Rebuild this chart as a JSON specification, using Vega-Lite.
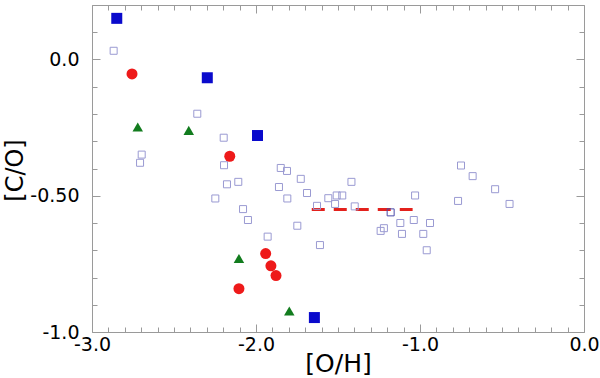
{
  "$schema": "https://vega.github.io/schema/vega-lite/v6.json",
  "width": 492,
  "height": 327,
  "autosize": {"type": "none"},
  "padding": {"left": 92, "top": 5, "right": 16, "bottom": 46},
  "background": "white",
  "config": {
    "view": {"stroke": "#9a9a9a", "strokeWidth": 1},
    "axis": {
      "grid": false,
      "domain": false,
      "labelFont": "DejaVu Sans",
      "titleFont": "DejaVu Sans",
      "labelColor": "black",
      "titleColor": "black",
      "tickColor": "#9a9a9a",
      "tickWidth": 1,
      "titleFontWeight": "normal",
      "labelFlush": false,
      "labelOverlap": false
    }
  },
  "datasets": {
    "line": [
      {"oh": -1.66, "co": -0.55},
      {"oh": -1.045, "co": -0.55}
    ],
    "open": [
      {"oh": -2.868, "co": 0.032, "kind": "open"},
      {"oh": -2.358, "co": -0.199, "kind": "open"},
      {"oh": -2.197, "co": -0.287, "kind": "open"},
      {"oh": -2.697, "co": -0.349, "kind": "open"},
      {"oh": -2.707, "co": -0.379, "kind": "open"},
      {"oh": -2.195, "co": -0.388, "kind": "open"},
      {"oh": -2.177, "co": -0.458, "kind": "open"},
      {"oh": -2.108, "co": -0.449, "kind": "open"},
      {"oh": -2.248, "co": -0.51, "kind": "open"},
      {"oh": -2.079, "co": -0.549, "kind": "open"},
      {"oh": -2.049, "co": -0.589, "kind": "open"},
      {"oh": -1.929, "co": -0.65, "kind": "open"},
      {"oh": -1.849, "co": -0.398, "kind": "open"},
      {"oh": -1.811, "co": -0.409, "kind": "open"},
      {"oh": -1.727, "co": -0.438, "kind": "open"},
      {"oh": -1.86, "co": -0.468, "kind": "open"},
      {"oh": -1.809, "co": -0.51, "kind": "open"},
      {"oh": -1.689, "co": -0.49, "kind": "open"},
      {"oh": -1.748, "co": -0.61, "kind": "open"},
      {"oh": -1.61, "co": -0.681, "kind": "open"},
      {"oh": -1.418, "co": -0.449, "kind": "open"},
      {"oh": -1.559, "co": -0.509, "kind": "open"},
      {"oh": -1.508, "co": -0.499, "kind": "open"},
      {"oh": -1.474, "co": -0.499, "kind": "open"},
      {"oh": -1.518, "co": -0.53, "kind": "open"},
      {"oh": -1.628, "co": -0.537, "kind": "open"},
      {"oh": -1.398, "co": -0.539, "kind": "open"},
      {"oh": -1.179, "co": -0.561, "kind": "dark"},
      {"oh": -1.12, "co": -0.6, "kind": "open"},
      {"oh": -1.22, "co": -0.619, "kind": "open"},
      {"oh": -1.24, "co": -0.629, "kind": "open"},
      {"oh": -1.11, "co": -0.64, "kind": "open"},
      {"oh": -1.03, "co": -0.499, "kind": "open"},
      {"oh": -1.038, "co": -0.589, "kind": "open"},
      {"oh": -0.939, "co": -0.6, "kind": "open"},
      {"oh": -0.98, "co": -0.64, "kind": "open"},
      {"oh": -0.959, "co": -0.7, "kind": "open"},
      {"oh": -0.75, "co": -0.389, "kind": "open"},
      {"oh": -0.679, "co": -0.428, "kind": "open"},
      {"oh": -0.542, "co": -0.476, "kind": "open"},
      {"oh": -0.768, "co": -0.519, "kind": "open"},
      {"oh": -0.454, "co": -0.53, "kind": "open"}
    ],
    "squares": [
      {"oh": -2.849, "co": 0.151},
      {"oh": -2.297, "co": -0.067},
      {"oh": -1.991, "co": -0.279},
      {"oh": -1.644, "co": -0.947}
    ],
    "circles": [
      {"oh": -2.756, "co": -0.053},
      {"oh": -2.16, "co": -0.355},
      {"oh": -1.941, "co": -0.712},
      {"oh": -1.909, "co": -0.757},
      {"oh": -1.878, "co": -0.793},
      {"oh": -2.104, "co": -0.841}
    ],
    "triangles": [
      {"oh": -2.721, "co": -0.248},
      {"oh": -2.41, "co": -0.26},
      {"oh": -2.104, "co": -0.73},
      {"oh": -1.797, "co": -0.923}
    ]
  },
  "layer": [
    {
      "data": {"name": "line"},
      "mark": {"type": "line", "color": "#e3211c", "strokeWidth": 3, "strokeDash": [13, 9]},
      "encoding": {
        "x": {
          "field": "oh", "type": "quantitative",
          "scale": {"domain": [-3, 0], "nice": false, "zero": false},
          "axis": {
            "orient": "bottom",
            "values": [-3, -2.9, -2.8, -2.7, -2.6, -2.5, -2.4, -2.3, -2.2, -2.1, -2, -1.9, -1.8, -1.7, -1.6, -1.5, -1.4, -1.3, -1.2, -1.1, -1, -0.9, -0.8, -0.7, -0.6, -0.5, -0.4, -0.3, -0.2, -0.1, 0],
            "labels": false,
            "title": null,
            "tickSize": {"condition": {"test": "abs(datum.value - round(datum.value)) < 0.001", "value": -8}, "value": -5}
          }
        },
        "y": {
          "field": "co", "type": "quantitative",
          "scale": {"domain": [-1, 0.2], "nice": false, "zero": false},
          "axis": {
            "orient": "left",
            "values": [-1, -0.9, -0.8, -0.7, -0.6, -0.5, -0.4, -0.3, -0.2, -0.1, 0, 0.1, 0.2],
            "labels": false,
            "title": null,
            "tickSize": {"condition": {"test": "abs(datum.value * 2 - round(datum.value * 2)) < 0.001", "value": -8}, "value": -5}
          }
        }
      }
    },
    {
      "data": {"name": "open"},
      "mark": {"type": "point", "shape": "square", "filled": false, "size": 49, "strokeWidth": 1, "opacity": 1},
      "encoding": {
        "x": {
          "field": "oh", "type": "quantitative",
          "scale": {"domain": [-3, 0], "nice": false, "zero": false},
          "axis": {
            "orient": "bottom",
            "values": [-3, -2, -1, 0],
            "ticks": false,
            "labelFontSize": 19,
            "labelPadding": 3,
            "labelFlush": false,
            "labelAlign": "center",
            "labelExpr": "datum.value == 0 ? '0.0' : '-' + format(abs(datum.value), '.1f')",
            "title": "[O/H]",
            "titleFontSize": 25,
            "titleX": 246,
            "titleY": 19
          }
        },
        "y": {
          "field": "co", "type": "quantitative",
          "scale": {"domain": [-1, 0.2], "nice": false, "zero": false},
          "axis": {
            "orient": "left",
            "values": [-1, -0.5, 0],
            "ticks": false,
            "labelFontSize": 19,
            "labelPadding": 13,
            "labelFlush": false,
            "labelBaseline": "middle",
            "labelExpr": "datum.value == 0 ? '0.0' : (datum.value == -1 ? '-1.0' : '-0.50')",
            "title": "[C/O]",
            "titleFontSize": 24,
            "titleX": -65,
            "titleY": 165
          }
        },
        "stroke": {
          "field": "kind", "type": "nominal",
          "scale": {"domain": ["open", "dark"], "range": ["#9a9ad2", "#4a4aa8"]},
          "legend": null
        }
      }
    },
    {
      "data": {"name": "squares"},
      "mark": {"type": "point", "shape": "square", "filled": true, "size": 121, "color": "#0a0acc", "opacity": 1},
      "encoding": {
        "x": {
          "field": "oh", "type": "quantitative",
          "scale": {"domain": [-3, 0], "nice": false, "zero": false},
          "axis": {
            "orient": "top",
            "values": [-3, -2.9, -2.8, -2.7, -2.6, -2.5, -2.4, -2.3, -2.2, -2.1, -2, -1.9, -1.8, -1.7, -1.6, -1.5, -1.4, -1.3, -1.2, -1.1, -1, -0.9, -0.8, -0.7, -0.6, -0.5, -0.4, -0.3, -0.2, -0.1, 0],
            "labels": false,
            "title": null,
            "tickSize": {"condition": {"test": "abs(datum.value - round(datum.value)) < 0.001", "value": -8}, "value": -5}
          }
        },
        "y": {
          "field": "co", "type": "quantitative",
          "scale": {"domain": [-1, 0.2], "nice": false, "zero": false},
          "axis": {
            "orient": "right",
            "values": [-1, -0.9, -0.8, -0.7, -0.6, -0.5, -0.4, -0.3, -0.2, -0.1, 0, 0.1, 0.2],
            "labels": false,
            "title": null,
            "tickSize": {"condition": {"test": "abs(datum.value * 2 - round(datum.value * 2)) < 0.001", "value": -8}, "value": -5}
          }
        }
      }
    },
    {
      "data": {"name": "circles"},
      "mark": {"type": "point", "shape": "circle", "filled": true, "size": 121, "color": "#ee1a1a", "opacity": 1},
      "encoding": {
        "x": {"field": "oh", "type": "quantitative", "scale": {"domain": [-3, 0], "nice": false, "zero": false}, "axis": null},
        "y": {"field": "co", "type": "quantitative", "scale": {"domain": [-1, 0.2], "nice": false, "zero": false}, "axis": null}
      }
    },
    {
      "data": {"name": "triangles"},
      "mark": {"type": "point", "shape": "triangle-up", "filled": true, "size": 110, "color": "#127c1e", "opacity": 1},
      "encoding": {
        "x": {"field": "oh", "type": "quantitative", "scale": {"domain": [-3, 0], "nice": false, "zero": false}, "axis": null},
        "y": {"field": "co", "type": "quantitative", "scale": {"domain": [-1, 0.2], "nice": false, "zero": false}, "axis": null}
      }
    }
  ],
  "resolve": {"axis": {"x": "independent", "y": "independent"}}
}
